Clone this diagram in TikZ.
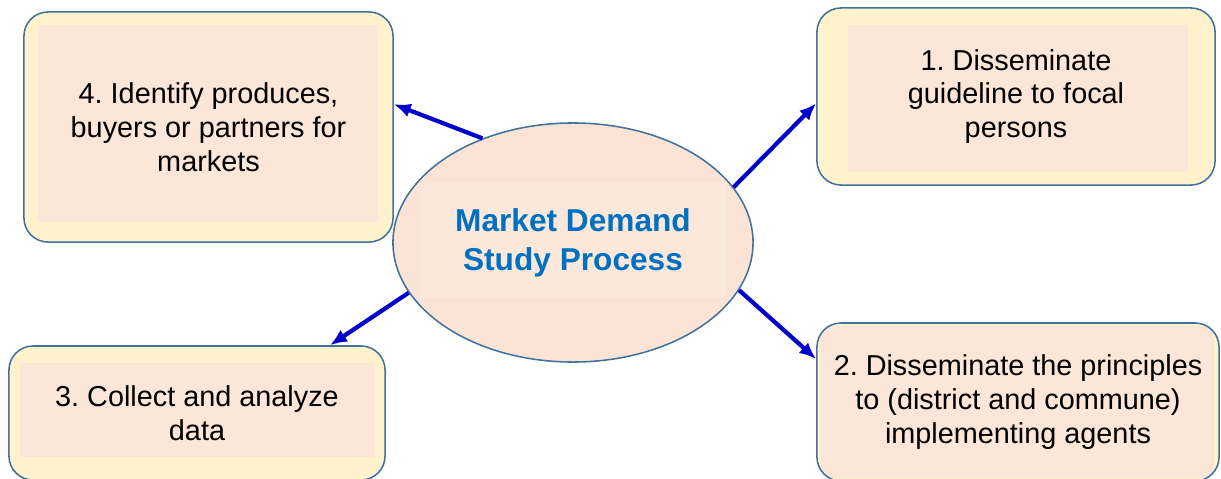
\documentclass[tikz,border=0pt]{standalone}
\usepackage{fontspec}
\setmainfont{Liberation Sans}
\setsansfont{Liberation Sans}
\usepackage{tikz}
\usetikzlibrary{arrows.meta, shapes, positioning}
\frenchspacing

\definecolor{boxcream}{HTML}{FFF2CC}
\definecolor{boxpeach}{HTML}{FCE6D8}
\definecolor{hubfill}{HTML}{FBE3D6}
\definecolor{hubinner}{HTML}{FCE8DB}
\definecolor{edgeline}{HTML}{41719C}
\definecolor{flowblue}{HTML}{0000CC}
\definecolor{titleblue}{HTML}{0070C0}

\begin{document}
\begin{tikzpicture}[x=0.025cm,y=-0.025cm,font=\sffamily,>={Latex[length=12pt,width=10pt]}]

	\tikzset{task box/.style n args={4}{rectangle, rounded corners=0.6cm,
			draw=edgeline, line width=1.1pt, fill=boxcream,
			inner sep=0pt, align=center,
			font=\sffamily\fontsize{20.5}{24}\selectfont,
			path picture={\fill[boxpeach, sharp corners]
				([xshift=#1*0.025cm, yshift=-#2*0.025cm]path picture bounding box.north west)
				rectangle ([xshift=-#3*0.025cm, yshift=#4*0.025cm]path picture bounding box.south east);}},
		hub st/.style={ellipse, draw=edgeline, line width=1.1pt, fill=hubfill,
			inner sep=0pt, align=center, text=titleblue,
			minimum width=9cm, minimum height=5.975cm,
			font=\sffamily\bfseries\fontsize{22.5}{27.5}\selectfont,
			path picture={\fill[hubinner]
				([xshift=27*0.025cm, yshift=-59*0.025cm]path picture bounding box.north west)
				rectangle ([xshift=-26*0.025cm, yshift=64*0.025cm]path picture bounding box.south east);}},
		flow/.style={->, color=flowblue, line width=3pt}}

	\useasboundingbox (0,0) rectangle (1221,479);

	\node[task box={14}{13}{15}{20}, minimum width=9.225cm, minimum height=5.75cm] (identify) at (208.5,127)
		{4. Identify produces,\\buyers or partners for\\markets};
	\node[task box={31}{17}{27}{13}, minimum width=9.95cm, minimum height=4.425cm] (guide) at (1016,96.5)
		{1. Disseminate\\guideline to focal\\persons};
	\node[task box={3}{3}{5}{3}, minimum width=10.05cm, minimum height=3.95cm] (principles) at (1018,402)
		{2. Disseminate the principles\\to (district and commune)\\implementing agents};
	\node[task box={11}{17}{10}{23}, minimum width=9.4cm, minimum height=3.35cm] (collect) at (197,413)
		{3. Collect and analyze\\data};

	\node[hub st] (study) at (573,242.5) {Market Demand\\Study Process};

	\draw
	(study.131) edge[flow] (identify.7)
	(study.19) edge[flow] (guide.182)
	(study.344) edge[flow] (principles.168)
	(study.197) edge[flow] (collect.27);

\end{tikzpicture}
\end{document}
